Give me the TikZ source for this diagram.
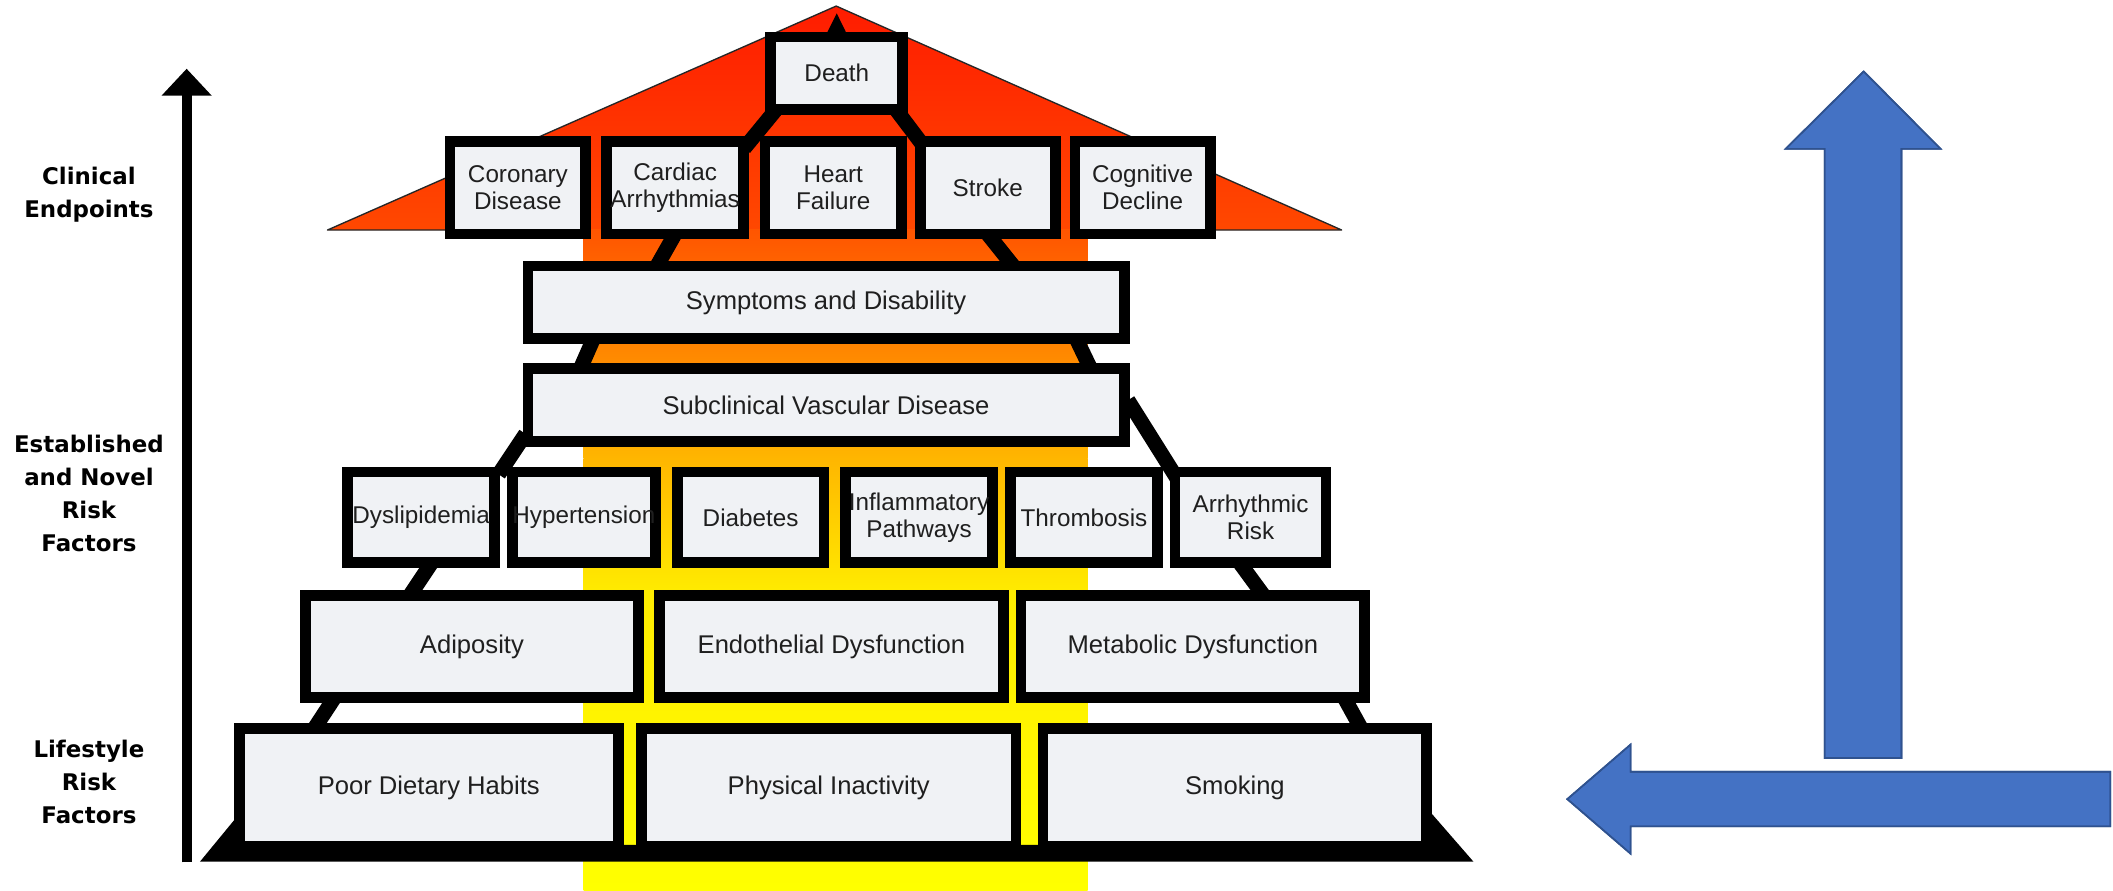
\documentclass[tikz,border=0pt]{standalone}
\usepackage{fontspec}
\setmainfont{Liberation Sans}
\newfontfamily\labfont{DejaVu Sans}
\usetikzlibrary{calc,arrows.meta}
\pgfdeclarelayer{back}
\pgfdeclarelayer{legs}
\pgfsetlayers{back,legs,main}
\definecolor{boxfill}{RGB}{240,242,245}
\definecolor{arrblue}{RGB}{68,114,196}
\definecolor{arredge}{RGB}{47,82,143}
\definecolor{roofTop}{RGB}{255,28,0}
\definecolor{roofBot}{RGB}{255,72,0}
\definecolor{colA}{RGB}{255,85,0}
\definecolor{colB}{RGB}{255,135,0}
\definecolor{colC}{RGB}{255,182,0}
\definecolor{colD}{RGB}{255,236,0}
\definecolor{colE}{RGB}{255,255,0}
\begin{document}
\begin{tikzpicture}[x=1pt,y=-1pt,
  box/.style={draw=black, line width=8pt, fill=boxfill, inner sep=0pt, align=center,
              text=black!88, font=\fontsize{18}{20}\selectfont},
  widebox/.style={box, font=\fontsize{19}{21}\selectfont},
  leg/.style={line width=11pt, black},
  lab/.style={align=center, text=black, font=\labfont\bfseries\fontsize{17}{24.5}\selectfont},
  bluearrow/.style={fill=arrblue, draw=arredge, line width=1.2pt, line join=miter}]
\useasboundingbox (0,0) rectangle (1568,661);

% ---------- boxes ----------
\node[box, minimum width=98pt, minimum height=53.8pt] (death) at (621,54.4) {Death};

\node[box, minimum width=100.6pt, minimum height=68.6pt] (coronary) at (384.3,139.3) {Coronary\\Disease};
\node[box, minimum width=102pt, minimum height=68.6pt] (cardiac) at (501,139.3) {Cardiac\\Arrhythmias};
\node[box, minimum width=101.4pt, minimum height=68.6pt] (heart) at (618.3,139.3) {Heart\\Failure};
\node[box, minimum width=100pt, minimum height=68.6pt] (stroke) at (733,139.3) {Stroke};
\node[box, minimum width=100.3pt, minimum height=68.6pt] (cognitive) at (847.9,139.3) {Cognitive\\Decline};

\node[widebox, minimum width=442.5pt, minimum height=53.9pt] (symptoms) at (613,224.4) {Symptoms and Disability};
\node[widebox, minimum width=442.5pt, minimum height=53.9pt] (subclin) at (613,300.5) {Subclinical Vascular Disease};

\node[box, minimum width=109pt, minimum height=67.4pt] (dys) at (312.5,384) {Dyslipidemia};
\node[box, minimum width=106.5pt, minimum height=67.4pt] (hyp) at (433.3,384) {Hypertension};
\node[box, minimum width=109pt, minimum height=67.4pt] (dia) at (557,384) {Diabetes};
\node[box, minimum width=109pt, minimum height=67.4pt] (inf) at (682,384) {Inflammatory\\Pathways};
\node[box, minimum width=109pt, minimum height=67.4pt] (thr) at (804.4,384) {Thrombosis};
\node[box, minimum width=112pt, minimum height=67.4pt] (arr) at (928,384) {Arrhythmic\\Risk};

\node[widebox, minimum width=247pt, minimum height=76pt] (adi) at (350.2,479.8) {Adiposity};
\node[widebox, minimum width=255pt, minimum height=76pt] (endo) at (617,479.8) {Endothelial Dysfunction};
\node[widebox, minimum width=255pt, minimum height=76pt] (met) at (885.2,479.8) {Metabolic Dysfunction};

\node[widebox, minimum width=281pt, minimum height=87.2pt] (poor) at (318.2,584.4) {Poor Dietary Habits};
\node[widebox, minimum width=278pt, minimum height=87.2pt] (phys) at (615,584.4) {Physical Inactivity};
\node[widebox, minimum width=284.7pt, minimum height=87.2pt] (smoke) at (916.4,584.4) {Smoking};

% ---------- side labels ----------
\node[lab] (clinlab) at (66,144.3) {Clinical\\Endpoints};
\node[lab] (estlab) at (66,366.5) {Established\\and Novel\\Risk\\Factors};
\node[lab] (lifelab) at (66,580) {Lifestyle\\Risk\\Factors};

% ---------- axis arrow ----------
\coordinate (axbot) at (138.5,640);
\coordinate (axtop) at (138.5,51);
\draw[line width=7.4pt, -{Triangle[width=36pt,length=20pt]}] (axbot) -- (axtop);

% ---------- blue arrows ----------
\fill[bluearrow] (1354,562.5) -- (1354,110.5) -- (1325,110.5) -- (1383,53) -- (1440,110.5)
  -- (1411,110.5) -- (1411,562.5) -- cycle;
\fill[bluearrow] (1566,572.7) -- (1210,572.7) -- (1210,552.5) -- (1163,593) -- (1210,633.5)
  -- (1210,613.2) -- (1566,613.2) -- cycle;
\draw[arredge, line width=1.2pt] (1354,562.5) -- (1354,110.5) -- (1325,110.5) -- (1383,53) -- (1440,110.5)
  -- (1411,110.5) -- (1411,562.5) -- cycle;
\draw[arredge, line width=1.2pt] (1566,572.7) -- (1210,572.7) -- (1210,552.5) -- (1163,593) -- (1210,633.5)
  -- (1210,613.2) -- (1566,613.2) -- cycle;

% ---------- legs and base ----------
\begin{pgfonlayer}{legs}
  \fill[black] (613.4,25) -- (620.9,9.9) -- (628.3,25) -- cycle;
  \draw[leg] ($(death.center)+(-42.4,23.6)$) -- ($(heart.center)+(-66,-29.3)$);
  \draw[leg] ($(death.center)+(41.4,23.6)$) -- ($(heart.center)+(68.3,-29.3)$);
  \draw[leg] ($(cardiac.center)+(2,30.7)$) -- ($(symptoms.center)+(-127,-24.4)$);
  \draw[leg] ($(stroke.center)+(-3,30.7)$) -- ($(symptoms.center)+(141,-24.4)$);
  \draw[leg] ($(symptoms.center)+(-172,25.6)$) -- ($(subclin.center)+(-183,-25.5)$);
  \draw[leg] ($(symptoms.center)+(185,25.6)$) -- ($(subclin.center)+(197,-25.5)$);
  \draw[leg] ($(subclin.center)+(-223,21.5)$) -- ($(hyp.center)+(-63.3,-32)$);
  \draw[leg] ($(subclin.center)+(224,-3.5)$) -- ($(arr.center)+(-54,-28)$);
  \draw[leg] ($(dys.center)+(9.5,31)$) -- ($(adi.center)+(-48.2,-34.8)$);
  \draw[leg] ($(arr.center)+(-10,31)$) -- ($(met.center)+(54.8,-34.8)$);
  \draw[leg] ($(adi.center)+(-100.2,35.2)$) -- ($(poor.center)+(-87.2,-40.4)$);
  \draw[leg] ($(met.center)+(110.8,35.2)$) -- ($(smoke.center)+(95.6,-40.4)$);
  \fill[black] (148.4,639.4) -- (180,601) -- (180,627) -- (1060,627) -- (1060,601) -- (1093.4,639.4) -- cycle;
\end{pgfonlayer}

% ---------- roof and column ----------
\begin{pgfonlayer}{back}
  \fill[white] (0,0) rectangle (1568,661);
  \shade[top color=roofTop, bottom color=roofBot] (620.5,4.5) -- (995.6,170.7) -- (243,170.7) -- cycle;
  \draw[black!85, line width=1pt, line join=round] (243,170.7) -- (620.5,4.5) -- (995.6,170.7) -- cycle;
  \shade[top color=colA, bottom color=colB] (433,170.5) rectangle (807,260.5);
  \shade[top color=colB, bottom color=colC] (433,260) rectangle (807,340.5);
  \shade[top color=colC, bottom color=colD] (433,340) rectangle (807,440.5);
  \shade[top color=colD, bottom color=colE] (433,440) rectangle (807,661);
\end{pgfonlayer}
\end{tikzpicture}
\end{document}
